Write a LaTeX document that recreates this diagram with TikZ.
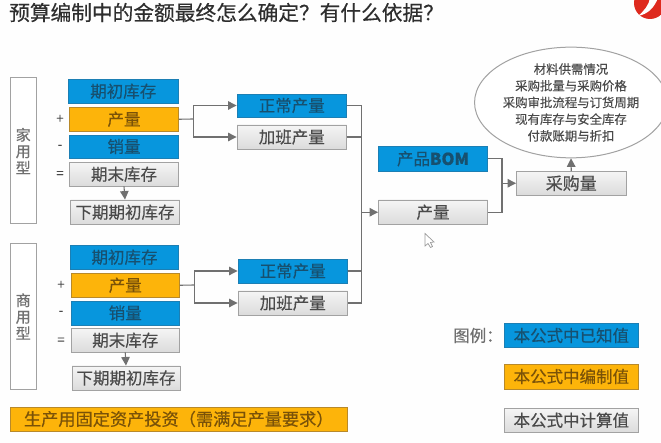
\documentclass[tikz,border=0pt]{standalone}
\usepackage{fontspec}
\setmainfont{Noto Sans CJK SC}
\newfontfamily\heavyfont[FakeBold=0.35]{Noto Sans CJK SC}
\usetikzlibrary{arrows.meta,shadows,calc,shapes.geometric}
\definecolor{bluefill}{HTML}{0796DD}
\definecolor{orangefill}{HTML}{FDB40A}
\definecolor{blueedge}{HTML}{1C7FB4}
\definecolor{orangeedge}{HTML}{B8892A}
\definecolor{greyedge}{HTML}{A2A2A2}
\definecolor{bluetext}{HTML}{17506F}
\definecolor{orangetext}{HTML}{7A5208}
\definecolor{greytext}{HTML}{4A4A4A}
\definecolor{linegrey}{HTML}{707070}
\definecolor{logored}{HTML}{DE2A1E}
\tikzset{
  x=1pt,y=-1pt,
  box/.style={draw,line width=0.9pt,inner sep=0pt,font=\heavyfont\fontsize{16.5}{18}\selectfont,
    drop shadow={shadow xshift=0.8pt,shadow yshift=-0.8pt,opacity=0.25,fill=black}},
  bluebox/.style={box,fill=bluefill,draw=blueedge,text=bluetext},
  orangebox/.style={box,fill=orangefill,draw=orangeedge,text=orangetext},
  greybox/.style={box,top color=white!96!black,bottom color=white!86!black,draw=greyedge,text=greytext},
  panel/.style={draw=greyedge,line width=1pt,fill=white,inner sep=0pt,text=linegrey,
    font=\heavyfont\fontsize{15}{16.5}\selectfont,align=center},
  sign/.style={inner sep=0pt,text=greytext,font=\heavyfont\fontsize{13}{14}\selectfont},
  conn/.style={draw=linegrey,line width=1.1pt},
  arr/.style={conn,-{Triangle[length=8.5pt,width=8.5pt]}},
}
% place a box by its pixel corners: style, name, x0, y0, x1, y1, text
\newcommand{\pbox}[7]{\node[#1,minimum width=#5pt-#3pt,minimum height=#6pt-#4pt,anchor=center]
  (#2) at ({(#3+#5)/2},{(#4+#6)/2}) {#7};}
\begin{document}
\begin{tikzpicture}
\useasboundingbox (0,0) rectangle (661,443);
\fill[white!99.5!black] (0,0) rectangle (661,443);

\node[anchor=west,inner sep=0pt,text=black!82,font=\heavyfont\fontsize{20.7}{22}\selectfont] (title) at (9,12.5)
  {预算编制中的金额最终怎么确定？有什么依据？};

% logo
\begin{scope}
  \clip (621,0) rectangle (661,30);
  \fill[logored] (650,3) circle (16);
  \fill[white!99.5!black] (638,16) .. controls (648,14) and (654,8) .. (658,-2)
    -- (650,-2) .. controls (649,5) and (644,11) .. (638,16) -- cycle;
\end{scope}

% first group
\pbox{panel}{panA}{10}{78}{36.5}{224}{家\\用\\型}
\pbox{bluebox}{aStart}{68.5}{79.5}{178}{103}{期初库存}
\pbox{orangebox}{aProd}{69.5}{107.5}{178.5}{131}{产量}
\pbox{bluebox}{aSale}{69.5}{135}{178.5}{158}{销量}
\pbox{greybox}{aEnd}{69.5}{162.5}{178.5}{186}{期末库存}
\pbox{greybox}{aNext}{70.5}{200}{179.5}{224.5}{下期期初库存}
\pbox{bluebox}{aNorm}{237}{94}{346.5}{117}{正常产量}
\pbox{greybox}{aOver}{237}{125}{346.5}{149}{加班产量}
\node[sign] (aPlus) at (60,119) {+};
\node[sign] (aMinus) at (60,147) {-};
\node[sign] (aEq) at (60,174.5) {=};

% second group
\pbox{panel}{panB}{10}{243.5}{36.5}{389.5}{商\\用\\型}
\pbox{bluebox}{bStart}{70.5}{245}{178.5}{269.5}{期初库存}
\pbox{orangebox}{bProd}{71}{273.5}{179.5}{297}{产量}
\pbox{bluebox}{bSale}{71}{301}{179.5}{325}{销量}
\pbox{greybox}{bEnd}{71}{328.5}{179.5}{352}{期末库存}
\pbox{greybox}{bNext}{72}{366}{180}{390}{下期期初库存}
\pbox{bluebox}{bNorm}{238}{259}{347.5}{283}{正常产量}
\pbox{greybox}{bOver}{238}{291}{347.5}{315}{加班产量}
\node[sign] (bPlus) at (61,285) {+};
\node[sign] (bMinus) at (61,313) {-};
\node[sign] (bEq) at (61,341) {=};

\pbox{orangebox}{invest}{10.5}{407}{347}{431}{\fontsize{17.2}{18}\selectfont 生产用固定资产投资（需满足产量要求）}

% centre and right
\pbox{bluebox}{bom}{378.5}{146.5}{487.5}{171}{产品\textbf{BOM}}
\pbox{greybox}{qty}{378.5}{200}{487.5}{224.5}{产量}
\pbox{greybox}{buy}{516.5}{171.5}{626}{195}{\fontsize{17}{18}\selectfont 采购量}
\node[draw=greyedge,line width=1pt,fill=white,ellipse,inner sep=0pt,minimum width=176pt,minimum height=91pt,
  text=greytext,align=center,font=\heavyfont\fontsize{12.4}{16.7}\selectfont] (basis) at (571,102.5)
  {材料供需情况\\采购批量与采购价格\\采购审批流程与订货周期\\现有库存与安全库存\\付款账期与折扣};

% legend
\node[inner sep=0pt,text=linegrey,font=\heavyfont\fontsize{16.5}{18}\selectfont] (legend) at (478,335.5) {图例：};
\pbox{bluebox}{legA}{504.7}{323.5}{638}{347.5}{本公式中已知值}
\pbox{orangebox}{legB}{504.7}{364}{638}{389}{本公式中编制值}
\pbox{greybox}{legC}{504.7}{408}{638}{432.5}{本公式中计算值}

% connectors
\coordinate (aFork) at (193.5,119);
\draw[conn] (aProd.east) -- (aFork);
\draw[arr] (aFork) |- (aNorm.west);
\draw[arr] (aFork) |- (aOver.west);
\coordinate (bFork) at (194.5,285);
\draw[conn] (bProd.east) -- (bFork);
\draw[arr] (bFork) |- (bNorm.west);
\draw[arr] (bFork) |- (bOver.west);
\draw[arr] (aEnd.south) -- (aNext.north);
\draw[arr] (bEnd.south) -- (bNext.north);
\coordinate (merge) at (361.5,212.25);
\draw[conn] (aNorm.east) -| (merge);
\draw[conn] (aOver.east) -| (merge);
\draw[conn] (bNorm.east) -| (merge);
\draw[conn] (bOver.east) -| (merge);
\draw[arr] (merge) -- (qty.west);
\coordinate (buyIn) at (502,183.25);
\draw[conn] (bom.east) -| (buyIn);
\draw[conn] (qty.east) -| (buyIn);
\draw[arr] (buyIn) -- (buy.west);
\draw[arr] (buy.north) -- (basis.south);

% mouse pointer
\draw[draw=linegrey!70,line width=0.7pt,fill=white] (425,233.5) -- (425,246) -- (428,243.5) -- (430.5,247.5) -- (432.5,246.5) -- (430.5,242.5) -- (434,242) -- cycle;
\end{tikzpicture}
\end{document}
